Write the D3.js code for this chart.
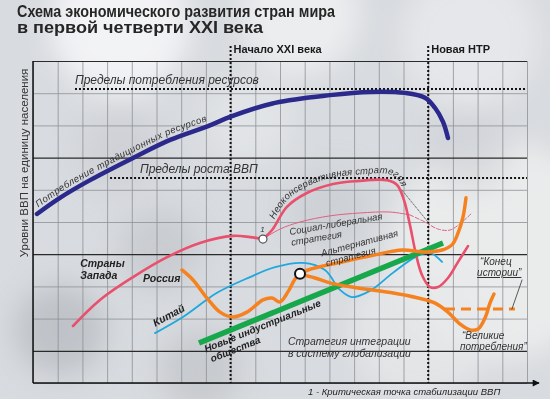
<!DOCTYPE html>
<html>
<head>
<meta charset="utf-8">
<script src="https://cdn.jsdelivr.net/npm/d3@7"></script>
<style>
body { margin: 0; }
svg { display: block; }
</style>
</head>
<body>
<svg id="chart" width="550" height="399"></svg>
<script>
// values in chart units: x = 0..20 (time), y = 0..10 (GDP level)
var resources = [[0.16,5.25],[1.09,5.75],[2.31,6.30],[4.05,6.99],[5.55,7.55],[7.09,7.98],[8.06,8.29],[9.80,8.70],[12.02,8.94],[13.64,9.04],[15.06,9.01],[15.87,8.86],[16.28,8.54],[16.60,8.11],[16.80,7.61]];
var west = [[1.62,1.77],[2.71,2.58],[4.05,3.29],[5.43,3.91],[6.76,4.35],[8.10,4.57],[8.79,4.53],[9.31,4.47]];
var neocons = [[9.31,4.47],[9.68,4.75],[10.28,5.47],[11.09,5.90],[12.15,6.18],[13.12,6.27],[14.33,6.30],[14.74,6.15],[15.02,5.68],[15.26,4.91],[15.51,3.98],[15.75,3.35],[16.07,2.98],[16.40,2.98],[16.80,3.26],[17.21,3.76],[17.61,4.25]];
var socLib = [[9.31,4.47],[10.0,4.78],[10.81,5.0],[12.02,5.19],[13.24,5.28],[14.45,5.31],[15.26,5.22]];
var socLibEnd = [[15.26,5.22],[15.87,5.0],[16.40,4.78],[16.88,4.75],[17.37,5.0],[17.77,5.28]];
var neoconsBranch = [[14.94,5.99],[15.99,5.0]];
var china = [[4.94,1.55],[6.07,2.05],[7.45,2.80],[8.79,3.29],[9.80,3.60],[10.93,3.73],[11.82,3.51],[12.43,2.89],[12.91,2.67],[13.64,2.86],[14.57,3.42],[15.55,3.94],[16.07,4.04],[16.56,3.76]];
var newIndustrial = [[6.72,1.24],[16.60,4.35]];
var russia = [[6.03,3.51],[6.48,3.20],[7.04,2.64],[7.57,2.20],[8.10,2.05],[8.66,2.20],[9.31,2.58],[9.68,2.64],[10.0,2.52],[10.32,2.83],[10.61,3.23],[10.81,3.39]];
var alternative = [[10.81,3.39],[11.13,3.51],[12.51,3.76],[13.85,3.98],[14.94,4.13],[15.87,4.07],[16.56,4.13],[16.96,4.29],[17.21,4.66],[17.41,5.16],[17.53,5.75]];
var greatConsumption = [[10.81,3.39],[11.42,3.26],[12.02,3.11],[13.16,2.95],[14.53,2.80],[15.59,2.64],[16.28,2.48],[16.80,2.20],[17.29,1.83],[17.69,1.65],[18.02,1.68],[18.30,2.02],[18.50,2.48],[18.66,2.76]];
var endOfHistory = [[16.68,2.30],[19.51,2.30]];
var endLeader = [[19.80,3.20],[19.39,2.30]];
var criticalPoints = [[9.31,4.47,4],[10.81,3.39,5]];

var eras = [[8, "Начало XXI века"], [16, "Новая НТР"]];
var limits = [[9.13, 1.7, 1.7, "Пределы потребления ресурсов"], [6.37, 3.12, 4.33, "Пределы роста ВВП"]];

var svg = d3.select("#chart");
var x = d3.scaleLinear().domain([0, 20]).range([33, 527]);
var y = d3.scaleLinear().domain([0, 10]).range([383, 61]);

// background
var defs = svg.append("defs");
var blur = defs.append("filter").attr("id", "blur").attr("x", "-50%").attr("y", "-50%").attr("width", "200%").attr("height", "200%");
blur.append("feGaussianBlur").attr("stdDeviation", 14);
defs.append("marker").attr("id", "arrow").attr("viewBox", "0 0 10 10").attr("refX", 9).attr("refY", 5)
  .attr("markerWidth", 9).attr("markerHeight", 7).attr("markerUnits", "userSpaceOnUse").attr("orient", "auto")
  .append("path").attr("d", "M0,0L10,5L0,10z").attr("fill", "#111");

svg.append("rect").attr("width", 550).attr("height", 399).attr("fill", "#d8dbdf");
var bg = svg.append("g").attr("filter", "url(#blur)");
var blobs = [[120,25,70,"#f4f5f7",0.9],[300,15,60,"#f0f1f3",0.8],[470,40,70,"#e9eaec",0.8],[500,250,110,"#eceded",0.9],[420,330,70,"#e6e7e9",0.8],
  [60,330,45,"#b9bdc3",0.8],[160,250,40,"#c3c6cb",0.7],[330,210,40,"#c6c9ce",0.6],[250,120,45,"#e4e6e9",0.8],[120,150,40,"#c9ccd1",0.6],[470,150,40,"#c7cacf",0.5],[200,370,40,"#c0c3c8",0.7]];
bg.selectAll("circle").data(blobs).join("circle")
  .attr("cx", d => d[0]).attr("cy", d => d[1]).attr("r", d => d[2]).attr("fill", d => d[3]).attr("opacity", d => d[4]);

// grid
var grid = svg.append("g");
grid.append("g").attr("transform", "translate(0," + y(0) + ")")
  .call(d3.axisBottom(x).ticks(20).tickSize(-(y(0) - y(10))).tickFormat(""))
  .call(g => g.select(".domain").remove())
  .call(g => g.selectAll("line").attr("stroke", "#8e9196").attr("stroke-width", 0.8));
grid.append("g").attr("transform", "translate(" + x(0) + ",0)")
  .call(d3.axisLeft(y).ticks(10).tickSize(-(x(20) - x(0))).tickFormat(""))
  .call(g => g.select(".domain").remove())
  .call(g => g.selectAll(".tick line").attr("stroke", d => d % 3 === 1 ? "#2a2a2a" : "#8e9196")
    .attr("stroke-width", d => d % 3 === 1 ? 1.2 : 0.8));

// axes
svg.append("line").attr("x1", x(0)).attr("x2", x(0)).attr("y1", y(10)).attr("y2", y(0)).attr("stroke", "#111").attr("stroke-width", 1.5);
svg.append("line").attr("x1", x(0)).attr("x2", 539).attr("y1", y(0)).attr("y2", y(0)).attr("stroke", "#111").attr("stroke-width", 1.5).attr("marker-end", "url(#arrow)");

var font = "Liberation Sans, Arial, sans-serif";

// era markers
eras.forEach(function(e) {
  svg.append("line").attr("x1", x(e[0])).attr("x2", x(e[0])).attr("y1", 46).attr("y2", y(0))
    .attr("stroke", "#111").attr("stroke-width", 2).attr("stroke-dasharray", "2,2");
  svg.append("text").attr("x", x(e[0]) + 3).attr("y", 53).attr("font-family", font)
    .attr("font-size", 11).attr("font-weight", "bold").attr("fill", "#1a1a1a").text(e[1]);
});

// limits
limits.forEach(function(l) {
  svg.append("line").attr("x1", x(l[1])).attr("x2", x(20)).attr("y1", y(l[0])).attr("y2", y(l[0]))
    .attr("stroke", "#111").attr("stroke-width", 2).attr("stroke-dasharray", "2,2");
  svg.append("text").attr("x", x(l[2])).attr("y", y(l[0]) - 5).attr("font-family", font)
    .attr("font-size", 12).attr("font-style", "italic").attr("fill", "#333").text(l[3]);
});

var line = d3.line().x(d => x(d[0])).y(d => y(d[1])).curve(d3.curveCatmullRom.alpha(0.5));
function draw(data, color, width, dash) {
  return svg.append("path").attr("d", line(data)).attr("fill", "none").attr("stroke", color)
    .attr("stroke-width", width).attr("stroke-linecap", "round").attr("stroke-dasharray", dash || null);
}

draw(neoconsBranch, "#555", 0.8, "2,1.5");
draw(socLib, "#e0607e", 1);
draw(socLibEnd, "#e0607e", 1, "4,2");
draw(china, "#1ea8de", 1.8);
draw(west, "#e8506e", 2.6);
draw(neocons, "#e8506e", 2.6);
draw(newIndustrial, "#16a84a", 5.5).attr("stroke-linecap", "butt");
draw(greatConsumption, "#f5821f", 3.5);
draw(endOfHistory, "#f5821f", 3, "10,6").attr("stroke-linecap", "butt");
draw(russia, "#f5821f", 3.5);
draw(alternative, "#f5821f", 3.5);
draw(resources, "#2b2a8c", 4.5);
draw(endLeader, "#333", 0.8);

svg.selectAll(".crit").data(criticalPoints).join("circle").attr("class", "crit")
  .attr("cx", d => x(d[0])).attr("cy", d => y(d[1])).attr("r", d => d[2])
  .attr("fill", "#fff").attr("stroke", d => d[2] > 4 ? "#111" : "#555").attr("stroke-width", d => d[2] > 4 ? 2 : 1.2);

// text along curves
var lift = function(data, dy) { return data.map(d => [d[0], d[1] + dy]); };
defs.append("path").attr("id", "resPath").attr("d", line(lift(resources, 0.17)));
defs.append("path").attr("id", "neoPath").attr("d", line(lift(neocons.slice(1, 9), 0.2)));

svg.append("text").attr("font-family", font).attr("font-size", 9.5).attr("font-style", "italic").attr("fill", "#333")
  .append("textPath").attr("href", "#resPath").attr("startOffset", 2).attr("textLength", 190)
  .text("Потребление традиционных ресурсов");
svg.append("text").attr("font-family", font).attr("font-size", 9.5).attr("font-style", "italic").attr("fill", "#333")
  .append("textPath").attr("href", "#neoPath").attr("startOffset", 5).attr("textLength", 150)
  .text("Неоконсервативная стратегия");

function label(px, py, rot, lines, size, opts) {
  opts = opts || {};
  var t = svg.append("text").attr("transform", "translate(" + px + "," + py + ") rotate(" + rot + ")")
    .attr("font-family", font).attr("font-size", size).attr("font-style", "italic")
    .attr("font-weight", opts.bold ? "bold" : null).attr("fill", opts.color || "#333");
  lines.forEach(function(s, i) {
    t.append("tspan").attr("x", i ? (opts.dx || 0) : 0).attr("dy", i ? size * 1.15 : 0)
      .attr("text-decoration", opts.under === i ? "underline" : null).text(s);
  });
  return t;
}

label(x(1.91), y(3.6), 0, ["Страны", "Запада"], 10.5, {bold: true, color: "#222"});
label(x(4.45), y(3.15), 0, ["Россия"], 10.5, {bold: true, color: "#222"});
label(x(4.95), y(1.75), -28, ["Китай"], 10.5, {bold: true, color: "#222"});
label(x(7.0), y(0.95), -22, ["Новые индустриальные", "общества"], 10, {bold: true, color: "#222", dx: 2});
label(x(10.4), y(4.6), -9.5, ["Социал-либеральная", "стратегия"], 9.5, {dx: 0});
label(x(11.7), y(3.93), -15, ["Альтернативная", "стратегия"], 9.5, {dx: 2});
label(x(10.32), y(1.18), 0, ["Стратегия интеграции", "в систему глобализации"], 10.5, {});
label(x(18.1), y(3.68), 0, ["\u201cКонец", "истории\u201d"], 10, {dx: -3, under: 1});
label(x(17.37), y(1.37), 0, ["\u201cВеликие", "потребления\u201d"], 10, {dx: -2});
label(x(9.2), y(4.7), 0, ["1"], 8, {});

// titles
svg.append("text").attr("x", 17).attr("y", 17).attr("font-family", font).attr("font-size", 16.5).attr("font-weight", "bold")
  .attr("fill", "#262626").attr("textLength", 318).attr("lengthAdjust", "spacingAndGlyphs").text("Схема экономического развития стран мира");
svg.append("text").attr("x", 17).attr("y", 33).attr("font-family", font).attr("font-size", 16.5).attr("font-weight", "bold")
  .attr("fill", "#262626").attr("textLength", 246).attr("lengthAdjust", "spacingAndGlyphs").text("в первой четверти XXI века");
svg.append("text").attr("transform", "translate(28,163) rotate(-90)").attr("text-anchor", "middle")
  .attr("font-family", font).attr("font-size", 11.5).attr("fill", "#333").text("Уровни ВВП на единицу населения");
svg.append("text").attr("x", 308).attr("y", 395).attr("font-family", font).attr("font-size", 9.5).attr("font-style", "italic")
  .attr("fill", "#222").text("1 - Критическая точка стабилизации ВВП");
</script>
</body>
</html>
